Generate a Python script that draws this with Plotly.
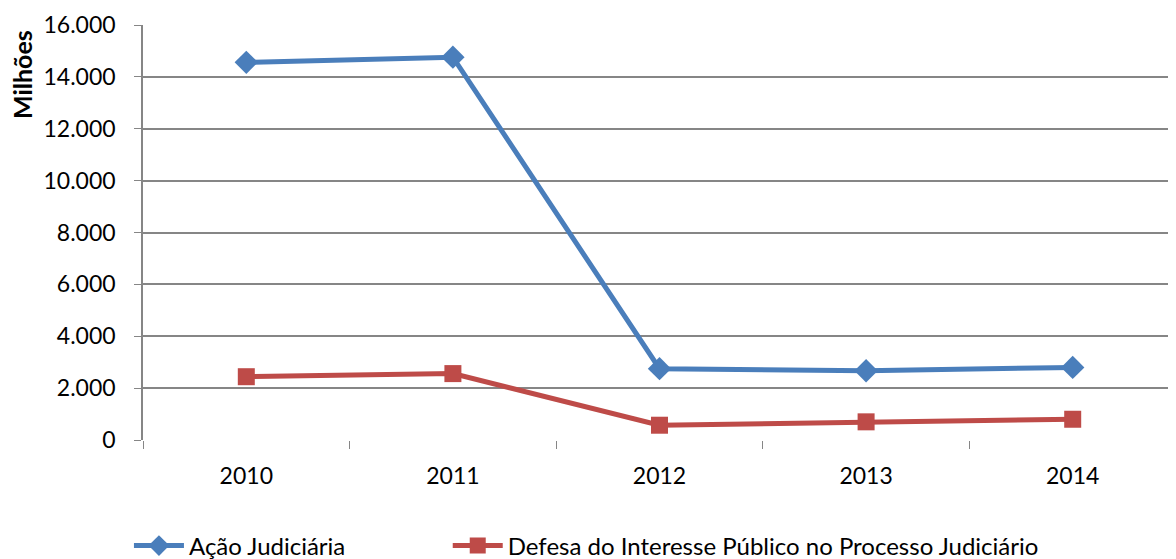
import plotly.graph_objects as go

years = ["2010", "2011", "2012", "2013", "2014"]
acao = [14560, 14760, 2750, 2670, 2800]
defesa = [2440, 2560, 570, 700, 800]
names = ["Ação Judiciária", "Defesa do Interesse Público no Processo Judiciário"]
y_ticks = [0, 2000, 4000, 6000, 8000, 10000, 12000, 14000, 16000]

FONT = "Lato, 'Open Sans', sans-serif"
fig = go.Figure()
fig.add_trace(go.Scatter(x=years, y=acao, name=names[0], mode="lines+markers",
                         line=dict(color="#4A7EBB", width=5),
                         marker=dict(symbol="diamond", size=18, color="#4A7EBB"),
                         legend="legend"))
fig.add_trace(go.Scatter(x=years, y=defesa, name=names[1], mode="lines+markers",
                         line=dict(color="#BE4B48", width=5),
                         marker=dict(symbol="square", size=17, color="#BE4B48"),
                         legend="legend2"))

PLOT_H = 415
leg_y = (440 - 546) / PLOT_H
fig.update_layout(
    width=1168, height=551,
    margin=dict(l=135, r=0, t=17, b=119, autoexpand=False),
    paper_bgcolor="white", plot_bgcolor="white",
    separators=",.",
    font=dict(family=FONT, size=23, color="black"),
    showlegend=True,
    legend=dict(orientation="h", x=-0.0136, xanchor="left", y=leg_y, yanchor="middle",
                font=dict(size=24), bgcolor="rgba(0,0,0,0)", itemwidth=50),
    legend2=dict(orientation="h", x=0.295, xanchor="left", y=leg_y, yanchor="middle",
                 font=dict(size=24), bgcolor="rgba(0,0,0,0)", itemwidth=50),
    xaxis=dict(type="category", tickson="boundaries", ticks="outside", ticklen=8,
               tickcolor="#868686", showgrid=False, showline=False,
               range=[-0.5, 4.5], ticklabelstandoff=20, zeroline=False),
    yaxis=dict(range=[0, 16000], tickvals=y_ticks, tickformat=",d", ticks="outside",
               ticklen=7, tickcolor="#868686", showgrid=True, gridcolor="#868686",
               gridwidth=1.5, showline=True, linecolor="#868686", linewidth=1.5,
               zeroline=False, ticklabelstandoff=14),
)
fig.add_annotation(text="<b>Milhões</b>", textangle=-90, xref="paper", yref="paper",
                   x=(22 - 143) / 1033, y=(440 - 75) / PLOT_H, xanchor="center", yanchor="middle",
                   showarrow=False, font=dict(size=25, family=FONT))
fig.write_html("out.html")
